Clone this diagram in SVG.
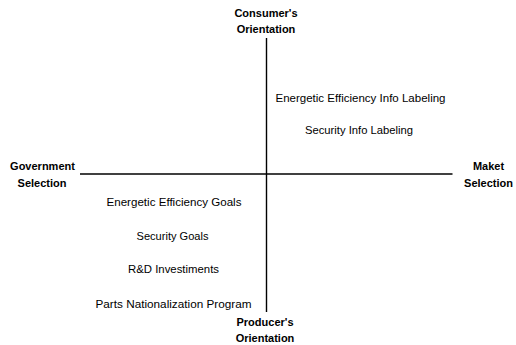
<svg xmlns="http://www.w3.org/2000/svg" width="516" height="345" viewBox="0 0 516 345">
  <style>
    .lbl { font-family: "Liberation Sans", Arial, sans-serif; font-size: 11px; fill: #000; text-anchor: middle; }
    .axis { font-family: "Liberation Sans", Arial, sans-serif; font-size: 11px; font-weight: bold; fill: #000; text-anchor: middle; }
    .ax { stroke: #000; stroke-width: 1.4; fill: none; }
  </style>
  <rect width="516" height="345" fill="#fff"/>
  <g id="connectors">
    <line class="ax" x1="266.5" y1="38" x2="266.5" y2="312"/>
    <line class="ax" x1="80" y1="174" x2="452.5" y2="174"/>
  </g>
  <g id="consumer">
    <text class="axis" x="266" y="17">Consumer's</text>
    <text class="axis" x="266" y="33">Orientation</text>
  </g>
  <g id="producer">
    <text class="axis" x="265" y="325.5">Producer's</text>
    <text class="axis" x="265" y="341.5">Orientation</text>
  </g>
  <g id="government">
    <text class="axis" x="42.5" y="169.5">Government</text>
    <text class="axis" x="42" y="187">Selection</text>
  </g>
  <g id="market">
    <text class="axis" x="488.5" y="169.5">Maket</text>
    <text class="axis" x="488.5" y="187">Selection</text>
  </g>
  <g id="ee-info">
    <text class="lbl" x="360.5" y="102" textLength="170" lengthAdjust="spacingAndGlyphs">Energetic Efficiency Info Labeling</text>
  </g>
  <g id="sec-info">
    <text class="lbl" x="359" y="134" textLength="108" lengthAdjust="spacingAndGlyphs">Security Info Labeling</text>
  </g>
  <g id="ee-goals">
    <text class="lbl" x="174" y="205.5" textLength="135" lengthAdjust="spacingAndGlyphs">Energetic Efficiency Goals</text>
  </g>
  <g id="sec-goals">
    <text class="lbl" x="172.5" y="240" textLength="72" lengthAdjust="spacingAndGlyphs">Security Goals</text>
  </g>
  <g id="rd">
    <text class="lbl" x="173.5" y="273" textLength="91" lengthAdjust="spacingAndGlyphs">R&amp;D Investiments</text>
  </g>
  <g id="parts">
    <text class="lbl" x="173.5" y="307.5" textLength="156" lengthAdjust="spacingAndGlyphs">Parts Nationalization Program</text>
  </g>
</svg>
